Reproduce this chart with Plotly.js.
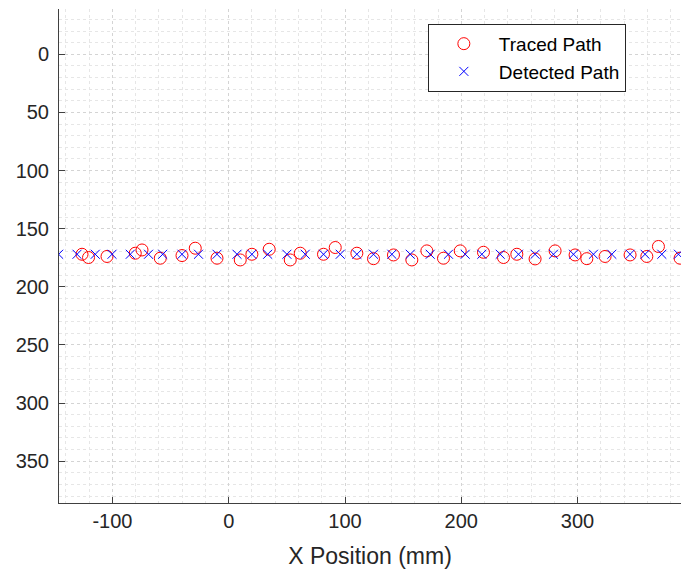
<!DOCTYPE html>
<html>
<head>
<meta charset="utf-8">
<script src="https://cdn.plot.ly/plotly-3.0.1.min.js"></script>
<style>html,body{margin:0;padding:0;background:#fff;}#chart{width:681px;height:569px;}</style>
</head>
<body>
<div id="chart"></div>
<script>
// Traced path (red circles)
const tracedX = [-126.2, -120.6, -104.7, -80.4, -74.6, -58.9, -40.2, -28.8, -10.1, 9.9, 19.9, 34.8, 52.9, 61.5, 81.5, 91.6, 110.2, 124.5, 141.7, 157.5, 170.4, 184.7, 199.1, 219.1, 236.3, 247.8, 263.5, 280.7, 297.9, 308.0, 323.7, 345.2, 359.6, 369.6, 388.2];
const tracedY = [172.0, 174.8, 173.9, 171.1, 168.3, 175.4, 173.1, 166.8, 175.4, 176.9, 172.0, 167.7, 176.9, 171.1, 172.0, 166.2, 171.1, 175.8, 172.6, 176.9, 169.1, 175.4, 169.1, 170.3, 174.8, 172.0, 176.0, 169.1, 172.6, 175.8, 173.9, 172.6, 173.9, 165.3, 175.4];
// Detected path (blue crosses)
const detectedX = [-146.3, -130.5, -114.8, -100.4, -84.7, -69.0, -56.8, -40.2, -26.0, -10.1, 7.1, 19.9, 33.5, 50.0, 65.8, 81.5, 95.9, 110.2, 124.5, 140.3, 156.1, 173.3, 189.0, 203.4, 217.7, 233.5, 249.2, 263.5, 279.3, 296.5, 313.7, 329.5, 345.2, 358.1, 372.5, 386.8];
const detectedY = [172, 172, 172, 172, 172, 172, 172, 172, 172, 172, 172, 172, 172, 172, 172, 172, 172, 172, 172, 172, 172, 172, 172, 172, 172, 172, 172, 172, 172, 172, 172, 172, 172, 172, 172, 172];
const xTicks = [-100, 0, 100, 200, 300, 400];
const xTickText = ['-100', '0', '100', '200', '300', '400'];
const yTicks = [0, 50, 100, 150, 200, 250, 300, 350];

const font = 'Liberation Sans, Arial, Helvetica, sans-serif';
const data = [
  {x: tracedX, y: tracedY, type: 'scatter', mode: 'markers', name: 'Traced Path',
   marker: {symbol: 'circle-open', size: 12, color: '#ff0000', line: {width: 1, color: '#ff0000'}}},
  {x: detectedX, y: detectedY, type: 'scatter', mode: 'markers', name: 'Detected Path',
   marker: {symbol: 'x-thin-open', size: 9, color: '#0000ff', line: {width: 1, color: '#0000ff'}}}
];
const axisCommon = {
  showline: true, linecolor: '#404040', linewidth: 1, mirror: false,
  ticks: 'inside', ticklen: 6, tickcolor: '#404040', tickwidth: 1,
  showgrid: true, gridcolor: '#d4d4d4', griddash: 'dot', gridwidth: 1,
  zeroline: false, tickfont: {family: font, size: 20, color: '#262626'},
  minor: {showgrid: true, gridcolor: '#e6e6e6', griddash: 'dot', gridwidth: 1, ticks: ''}
};
const layout = {
  width: 681, height: 569,
  margin: {l: 59, r: 0, t: 9, b: 66},
  paper_bgcolor: '#ffffff', plot_bgcolor: '#ffffff',
  font: {family: font, color: '#262626'},
  showlegend: true,
  legend: {x: 0.593, y: 0.97, xanchor: 'left', yanchor: 'top', bgcolor: '#ffffff',
           bordercolor: '#262626', borderwidth: 1, font: {family: font, size: 19, color: '#000'},
           itemwidth: 60, tracegroupgap: 0},
  xaxis: Object.assign({}, axisCommon, {
    range: [-146, 389], tickvals: xTicks, ticktext: xTickText, minor: Object.assign({}, axisCommon.minor, {dtick: 20}),
    title: {text: 'X Position (mm)', font: {family: font, size: 23, color: '#262626'}, standoff: 16}
  }),
  yaxis: Object.assign({}, axisCommon, {
    range: [386, -39], tickvals: yTicks, ticklabelstandoff: 5, minor: Object.assign({}, axisCommon.minor, {dtick: 10})
  })
};
Plotly.newPlot('chart', data, layout, {displayModeBar: false, staticPlot: true});
</script>
</body>
</html>
